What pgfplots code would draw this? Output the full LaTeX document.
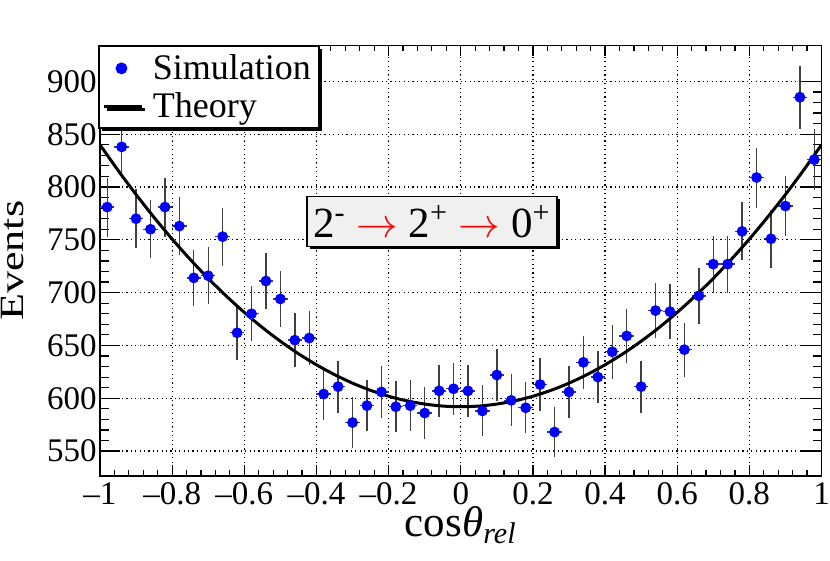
\documentclass[border=0pt]{standalone}
\usepackage{fontspec}
\setmainfont{Liberation Serif}
\newfontfamily\eventsfont{Liberation Serif}[FakeStretch=1.3]
\usepackage{pgfplots}
\pgfplotsset{compat=1.18}
\usepackage{pgfplotstable}
\usetikzlibrary{shadows}
\definecolor{boxgray}{RGB}{240,240,240}

\pgfplotstableread{
x y ey
-0.98 781 27.9
-0.94 838 29.0
-0.90 770 27.7
-0.86 760 27.6
-0.82 781 27.9
-0.78 763 27.6
-0.74 714 26.7
-0.70 716 26.8
-0.66 753 27.4
-0.62 662 25.7
-0.58 680 26.1
-0.54 711 26.7
-0.50 694 26.3
-0.46 655 25.6
-0.42 657 25.6
-0.38 604 24.6
-0.34 611 24.7
-0.30 577 24.0
-0.26 593 24.4
-0.22 606 24.6
-0.18 592 24.3
-0.14 593 24.4
-0.10 586 24.2
-0.06 607 24.6
-0.02 609 24.7
0.02 607 24.6
0.06 588 24.2
0.10 622 24.9
0.14 598 24.5
0.18 591 24.3
0.22 613 24.8
0.26 568 23.8
0.30 606 24.6
0.34 634 25.2
0.38 620 24.9
0.42 644 25.4
0.46 659 25.7
0.50 611 24.7
0.54 683 26.1
0.58 682 26.1
0.62 646 25.4
0.66 697 26.4
0.70 727 27.0
0.74 727 27.0
0.78 758 27.5
0.82 809 28.4
0.86 751 27.4
0.90 782 28.0
0.94 885 29.7
0.98 826 28.7
}\simdata

\pgfplotstableread{
x y
-1.00 840.0
-0.95 815.8
-0.90 792.9
-0.85 771.2
-0.80 750.7
-0.75 731.5
-0.70 713.5
-0.65 696.8
-0.60 681.3
-0.55 667.0
-0.50 654.0
-0.45 642.2
-0.40 631.7
-0.35 622.4
-0.30 614.3
-0.25 607.5
-0.20 601.9
-0.15 597.6
-0.10 594.5
-0.05 592.6
0.00 592.0
0.05 592.6
0.10 594.5
0.15 597.6
0.20 601.9
0.25 607.5
0.30 614.3
0.35 622.4
0.40 631.7
0.45 642.2
0.50 654.0
0.55 667.0
0.60 681.3
0.65 696.8
0.70 713.5
0.75 731.5
0.80 750.7
0.85 771.2
0.90 792.9
0.95 815.8
1.00 840.0
}\theorydata

\begin{document}
\begin{tikzpicture}
\useasboundingbox (-50pt,-42.5pt) rectangle (365pt,238pt);
\begin{axis}[
  at={(0,0)}, anchor=south west,
  scale only axis,
  width=360.75pt, height=215.25pt,
  xmin=-1, xmax=1, ymin=526.4, ymax=934,
  axis line style={line width=0.9pt},
  xtick={-1,-0.8,-0.6,-0.4,-0.2,0,0.2,0.4,0.6,0.8,1},
  xticklabels={\textendash1,\textendash0.8,\textendash0.6,\textendash0.4,\textendash0.2,0,0.2,0.4,0.6,0.8,1},
  ytick={550,600,650,700,750,800,850,900},
  minor x tick num=4, minor y tick num=4,
  tick align=inside,
  major tick length=10pt, minor tick length=4.5pt,
  xtick style={/pgfplots/major tick length=5.5pt, /pgfplots/minor tick length=3pt},
  tick style={black, line width=0.6pt},
  /pgf/number format/assume math mode=true,
  ticklabel style={font=\fontsize{16.5}{19}\selectfont},
  yticklabel style={inner xsep=1.5pt},
  xticklabel style={inner ysep=3pt},
  grid=major,
  major grid style={black, line width=0.6pt, dash pattern=on 0.6pt off 1.6pt},
  xlabel={cos\textit{θ}\textsubscript{\textit{rel}}},
  xlabel style={font=\fontsize{21.5}{24}\selectfont, at={(axis description cs:0.5,0)}, anchor=base, yshift=-30.5pt},
  ylabel={Events},
  ylabel style={font=\eventsfont\fontsize{17}{20}\selectfont, at={([xshift=-43.5pt]axis description cs:0,0.5)}, anchor=center},
  legend style={at={([xshift=-1pt]rel axis cs:0,1)}, anchor=north west,
    draw=black, line width=0.9pt, fill=white,
    drop shadow={shadow xshift=1.5pt, shadow yshift=-1.5pt, opacity=1, fill=black},
    font=\fontsize{18}{20.5}\selectfont,
    inner xsep=2pt, inner ysep=2pt, row sep=1pt},
  legend cell align=left,
]
\addplot[only marks, mark=*, mark size=2.5pt, blue, mark options={draw=blue, fill=blue},
  error bars/.cd, y dir=both, y explicit, x dir=both, x fixed=0.02,
  error bar style={black!75, line width=0.7pt}, error mark=none]
  table[x=x, y=y, y error=ey] {\simdata};
\addlegendentry{Simulation}
\addplot[black, line width=1.5pt, smooth, no marks,
  legend image code/.code={\draw[black, line width=1.5pt] (0pt,0pt) -- (19pt,0pt); \path (21.5pt,0pt);}]
  table[x=x, y=y] {\theorydata};
\addlegendentry{Theory}
\node[draw=black, line width=0.7pt, fill=boxgray, minimum width=125pt, minimum height=25pt,
  inner sep=2pt, font=\fontsize{21.5}{24}\selectfont,
  drop shadow={shadow xshift=1.5pt, shadow yshift=-1.5pt, opacity=1, fill=black}]
  at (axis cs:-0.08,767.4)
  {2\textsuperscript{-}~{\color{red}$\rightarrow$}~2\textsuperscript{+}~{\color{red}$\rightarrow$}~0\textsuperscript{+}};
\end{axis}
\end{tikzpicture}
\end{document}
